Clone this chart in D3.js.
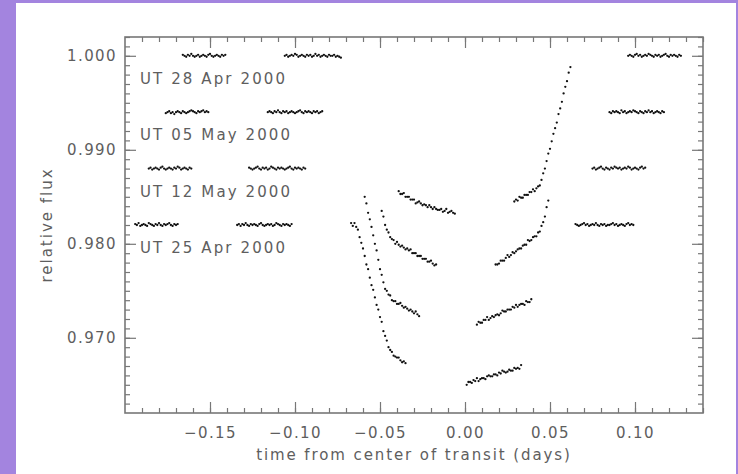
<!DOCTYPE html>
<html>
<head>
<meta charset="utf-8">
<script src="https://cdn.jsdelivr.net/npm/d3@7"></script>
<style>
  html, body { margin: 0; padding: 0; background: #a384df; }
  svg { display: block; }
  text { font-family: "DejaVu Sans", "Liberation Sans", sans-serif; fill: #5e5e5e; }
</style>
</head>
<body>
<svg id="chart" width="738" height="474"></svg>
<script>
// ---------------- data ----------------
const nights = ["UT 28 Apr 2000", "UT 05 May 2000", "UT 12 May 2000", "UT 25 Apr 2000"];
const nightOffsets = [0, -0.006, -0.012, -0.018];      // vertical offsets applied to each night
const cadence = 0.001;                                   // days between exposures
// start time (days from transit centre) of each HST orbit segment
const segmentStarts = [
  [-0.166, -0.106, -0.039, 0.029, 0.096],
  [-0.176, -0.116, -0.049, 0.018, 0.085],
  [-0.186, -0.127, -0.059, 0.007, 0.075],
  [-0.194, -0.134, -0.067, 0.001, 0.065]
];
// relative flux minus 1, in units of 1e-4, per orbit segment
const dev28Apr = [
  [1,0,-1,1,0,2,0,-1,0,1,-1,0,1,0,-1,1,2,0,-1,0,1,0,-1,1,0,1],
  [0,1,-1,0,1,0,2,1,-1,0,1,0,-1,1,0,1,-1,0,2,0,1,-1,0,1,0,-1,1,0,0,1,-1,0,-1,-2],
  [-144,-147,-147,-146,-150,-150,-150,-153,-153,-153,-157,-156,-155,-157,-159,-158,-159,-161,-159,-161,-163,-161,-163,-164,-164,-163,-166,-165,-163,-167,-166,-165,-167,-168],
  [-155,-153,-154,-150,-151,-151,-148,-148,-148,-145,-145,-142,-144,-141,-139,-138,-132,-125,-120,-112,-104,-99,-91,-83,-77,-71,-62,-56,-49,-40,-33,-27,-18,-12],
  [0,1,0,-1,1,2,0,1,-1,0,1,0,2,1,0,-1,1,0,1,-1,0,1,2,0,-1,1,0,1,0,-1,1,0]
];
const dev05May = [
  [-1,0,1,-1,0,-2,0,1,0,-1,1,0,-1,0,1,2,1,0,-1,1,0,1,2,0,1,0],
  [0,1,0,-1,1,0,2,0,-1,1,0,1,-1,0,1,0,-1,0,1,2,0,-1,1,0,1,0,-1,1,0,1,-1,0,1],
  [-105,-111,-120,-125,-128,-133,-135,-136,-140,-138,-141,-143,-142,-144,-146,-145,-147,-146,-150,-150,-150,-153,-153,-153,-156,-156,-156,-159,-159,-158,-161,-163,-162],
  [-162,-162,-161,-158,-158,-158,-155,-152,-154,-152,-149,-150,-148,-146,-145,-145,-142,-141,-141,-136,-137,-136,-133,-132,-132,-128,-127,-121,-117,-111,-101,-94],
  [0,-1,1,0,1,0,-1,2,0,1,-1,0,1,0,2,1,0,-1,1,0,-1,1,0,2,0,1,-1,0,1,0,-1,1,0]
];
const dev12May = [
  [0,1,-1,0,1,0,-1,1,2,0,-1,0,1,0,-1,1,0,2,1,-1,0,1,0,-1,1,0],
  [1,0,-1,0,1,2,0,-1,1,0,1,-1,0,2,1,0,-1,1,0,1,0,-1,0,1,2,0,-1,1,0,1,0,-1,1,0],
  [-30,-37,-47,-54,-62,-71,-80,-87,-97,-107,-113,-121,-128,-130,-134,-135,-140,-141,-141,-144,-144,-143,-146,-148,-147,-149,-151,-150,-152,-154,-152,-155,-157],
  [-166,-163,-164,-164,-161,-161,-158,-161,-159,-157,-158,-156,-155,-156,-154,-151,-152,-152,-150,-150,-150,-147,-148,-145,-147,-145,-144,-144,-145,-141,-142,-142,-139],
  [0,1,-1,0,1,2,0,-1,1,0,-1,1,0,2,1,0,1,-1,0,1,0,2,1,-1,0,1,0,-1,1,2,0,1]
];
const dev25Apr = [
  [1,0,2,-1,0,1,0,-1,2,1,0,-1,1,0,2,0,-1,1,0,1,2,0,-1,1,0,1],
  [0,1,-1,1,0,2,0,-1,1,0,1,0,-1,1,2,0,-1,0,1,0,1,-1,0,2,1,0,-1,1,0,1,0,-1,1],
  [2,-1,2,-2,-5,-13,-19,-25,-33,-42,-47,-56,-64,-69,-77,-85,-90,-98,-103,-113,-118,-123,-130,-133,-135,-139,-140,-141,-141,-144,-146,-145,-147],
  [-170,-167,-167,-168,-165,-166,-163,-166,-164,-163,-163,-164,-161,-160,-161,-161,-159,-159,-160,-157,-158,-155,-156,-157,-156,-154,-155,-155,-152,-153,-152,-153,-149],
  [1,0,-1,0,1,2,0,1,-1,0,1,0,2,0,-1,1,0,1,-1,0,0,1,2,0,1,-1,0,1,0,-1,1,2,0,1,0]
];
const nightDevs = [dev28Apr, dev05May, dev12May, dev25Apr];

const xDomain = [-0.2, 0.14];
const yDomain = [0.962, 1.002];
const xMajorTicks = [-0.15, -0.10, -0.05, 0.00, 0.05, 0.10];
const yMajorTicks = [0.970, 0.980, 0.990, 1.000];
const xTitle = "time from center of transit (days)";
const yTitle = "relative flux";

// ---------------- layout ----------------
const W = 738, H = 474;
const frame = { left: 125, right: 703, top: 37, bottom: 413 };
const svg = d3.select("#chart");

svg.append("rect").attr("x", 0).attr("y", 0).attr("width", W).attr("height", H).attr("fill", "#a384df");
svg.append("rect").attr("x", 16).attr("y", 3).attr("width", 720).attr("height", H - 3).attr("fill", "#ffffff");

const x = d3.scaleLinear().domain(xDomain).range([frame.left, frame.right]);
const y = d3.scaleLinear().domain(yDomain).range([frame.bottom, frame.top]);

const xMinor = d3.range(-0.19, 0.1401, 0.01).map(v => +v.toFixed(3));
const yMinor = d3.range(0.963, 1.0021, 0.001).map(v => +v.toFixed(4));

const axisColor = "#777";
function styleAxis(g) {
  g.select(".domain").remove();
  g.selectAll(".tick line").attr("stroke", axisColor).attr("stroke-width", 1.2);
}

// minor ticks (all four sides, pointing inward)
svg.append("g").attr("transform", `translate(0,${frame.bottom})`)
  .call(d3.axisBottom(x).tickValues(xMinor).tickSizeInner(-5).tickSizeOuter(0).tickFormat(""))
  .call(styleAxis);
svg.append("g").attr("transform", `translate(0,${frame.top})`)
  .call(d3.axisTop(x).tickValues(xMinor).tickSizeInner(-5).tickSizeOuter(0).tickFormat(""))
  .call(styleAxis);
svg.append("g").attr("transform", `translate(${frame.left},0)`)
  .call(d3.axisLeft(y).tickValues(yMinor).tickSizeInner(-5).tickSizeOuter(0).tickFormat(""))
  .call(styleAxis);
svg.append("g").attr("transform", `translate(${frame.right},0)`)
  .call(d3.axisRight(y).tickValues(yMinor).tickSizeInner(-5).tickSizeOuter(0).tickFormat(""))
  .call(styleAxis);

// major ticks
const gxb = svg.append("g").attr("transform", `translate(0,${frame.bottom})`)
  .call(d3.axisBottom(x).tickValues(xMajorTicks).tickSizeInner(-11).tickSizeOuter(0).tickPadding(14).tickFormat(d3.format(".2f")))
  .call(styleAxis);
svg.append("g").attr("transform", `translate(0,${frame.top})`)
  .call(d3.axisTop(x).tickValues(xMajorTicks).tickSizeInner(-11).tickSizeOuter(0).tickFormat(""))
  .call(styleAxis);
const gyl = svg.append("g").attr("transform", `translate(${frame.left},0)`)
  .call(d3.axisLeft(y).tickValues(yMajorTicks).tickSizeInner(-11).tickSizeOuter(0).tickPadding(8).tickFormat(d3.format(".3f")))
  .call(styleAxis);
svg.append("g").attr("transform", `translate(${frame.right},0)`)
  .call(d3.axisRight(y).tickValues(yMajorTicks).tickSizeInner(-11).tickSizeOuter(0).tickFormat(""))
  .call(styleAxis);

[gxb, gyl].forEach(g => g.selectAll(".tick text")
  .attr("fill", "#5e5e5e").style("font-size", "15px").style("letter-spacing", "1.4px")
  .style("font-family", '"DejaVu Sans", sans-serif'));

// frame
svg.append("rect")
  .attr("x", frame.left).attr("y", frame.top)
  .attr("width", frame.right - frame.left).attr("height", frame.bottom - frame.top)
  .attr("fill", "none").attr("stroke", axisColor).attr("stroke-width", 1.6);

// axis titles
svg.append("text").text(xTitle)
  .attr("x", (frame.left + frame.right) / 2).attr("y", 460)
  .attr("text-anchor", "middle").style("font-size", "15px").style("letter-spacing", "1.9px");
svg.append("text").text(yTitle)
  .attr("transform", `translate(52,${(frame.top + frame.bottom) / 2}) rotate(-90)`)
  .attr("text-anchor", "middle").style("font-size", "15px").style("letter-spacing", "2px");

// data points
const points = [];
nightDevs.forEach((segs, n) => {
  segs.forEach((vals, s) => {
    vals.forEach((v, i) => {
      points.push({ t: segmentStarts[n][s] + i * cadence, f: 1 + v * 1e-4 + nightOffsets[n] });
    });
  });
});
svg.append("g").selectAll("circle").data(points).join("circle")
  .attr("cx", d => x(d.t)).attr("cy", d => y(d.f))
  .attr("r", 1.15).attr("fill", "#111");

// night labels
svg.append("g").selectAll("text").data(nights).join("text")
  .text(d => d)
  .attr("x", frame.left + 15)
  .attr("y", (d, i) => y(1 + nightOffsets[i]) + 28)
  .style("font-size", "15px").style("letter-spacing", "2.1px");
</script>
</body>
</html>
